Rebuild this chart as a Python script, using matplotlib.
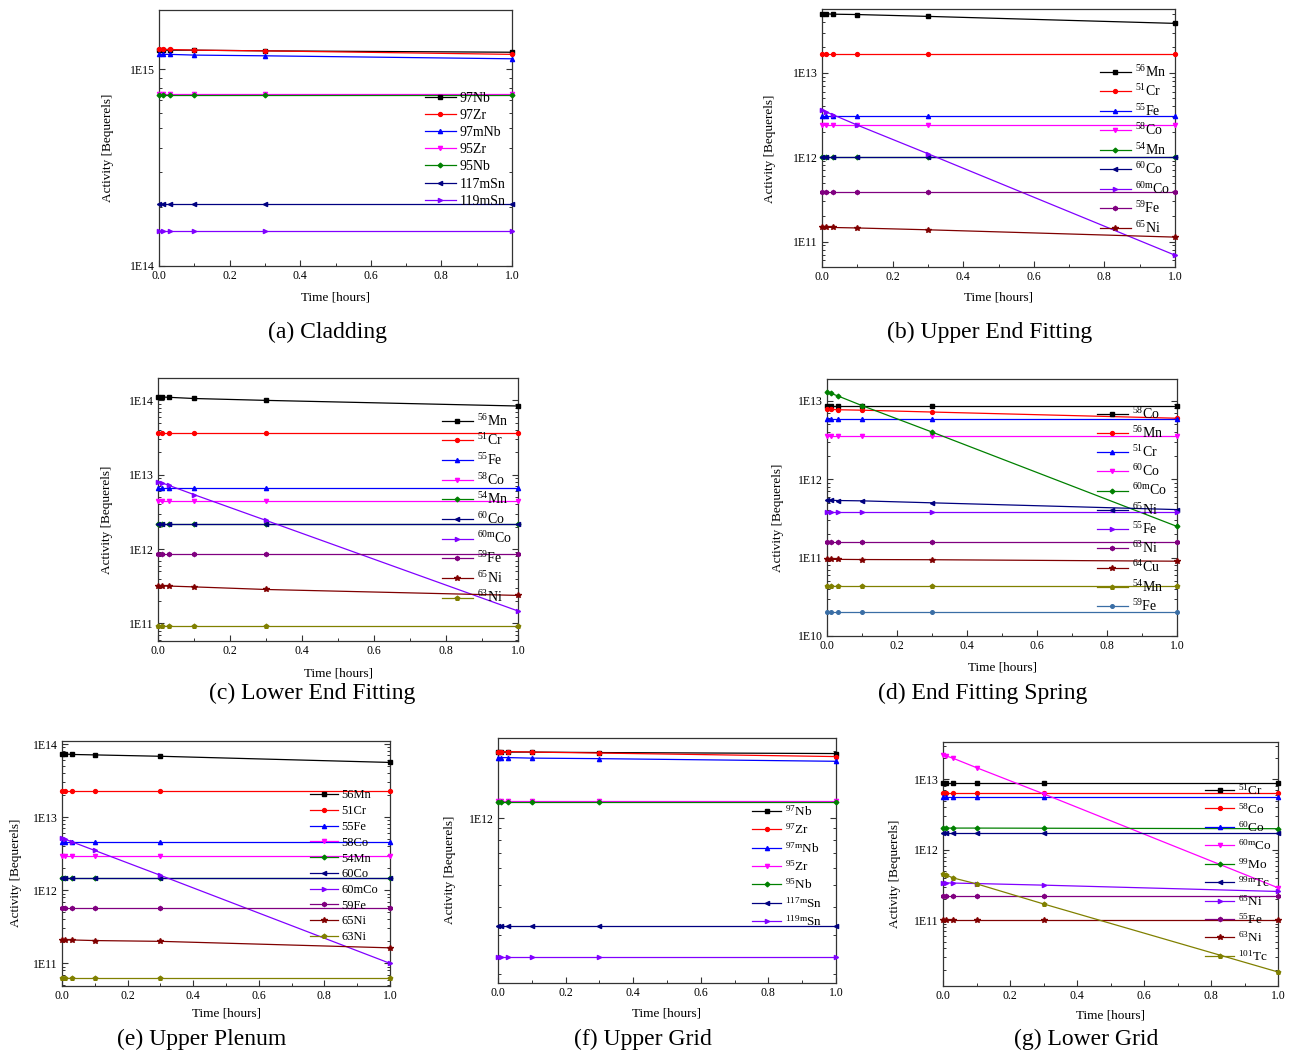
import numpy as np
import matplotlib
matplotlib.use('Agg')
import matplotlib.pyplot as plt
from matplotlib.ticker import LogLocator, FuncFormatter, MultipleLocator, NullFormatter

plt.rcParams['font.family'] = ['Liberation Serif', 'DejaVu Serif']
plt.rcParams['mathtext.fontset'] = 'custom'
plt.rcParams['mathtext.rm'] = 'Liberation Serif'
plt.rcParams['mathtext.it'] = 'Liberation Serif:italic'
plt.rcParams['mathtext.bf'] = 'Liberation Serif:bold'

# time after shutdown [hours]
TIME = [0.0, 0.01, 0.03, 0.1, 0.3, 1.0]

# (a) Cladding
clad_names = ['97Nb', '97Zr', '97mNb', '95Zr', '95Nb', '117mSn', '119mSn']
clad_vals = [
    [1.25e15, 1.25e15, 1.25e15, 1.25e15, 1.24e15, 1.22e15],
    [1.26e15, 1.26e15, 1.26e15, 1.25e15, 1.24e15, 1.19e15],
    [1.19e15, 1.19e15, 1.19e15, 1.18e15, 1.17e15, 1.13e15],
    [7.5e14, 7.5e14, 7.5e14, 7.5e14, 7.5e14, 7.5e14],
    [7.4e14, 7.4e14, 7.4e14, 7.4e14, 7.4e14, 7.4e14],
    [2.07e14, 2.07e14, 2.07e14, 2.07e14, 2.07e14, 2.07e14],
    [1.5e14, 1.5e14, 1.5e14, 1.5e14, 1.5e14, 1.5e14],
]

# (b) Upper End Fitting
uef_names = [r'$^{56}$Mn', r'$^{51}$Cr', r'$^{55}$Fe', r'$^{58}$Co', r'$^{54}$Mn',
             r'$^{60}$Co', r'$^{60\mathrm{m}}$Co', r'$^{59}$Fe', r'$^{65}$Ni']
uef_vals = [
    [5.0e13, 5.0e13, 4.95e13, 4.9e13, 4.66e13, 3.85e13],
    [1.68e13, 1.68e13, 1.68e13, 1.68e13, 1.68e13, 1.68e13],
    [3.05e12, 3.05e12, 3.05e12, 3.05e12, 3.05e12, 3.05e12],
    [2.4e12, 2.4e12, 2.4e12, 2.4e12, 2.4e12, 2.4e12],
    [1.0e12, 1.0e12, 1.0e12, 1.0e12, 1.0e12, 1.0e12],
    [1.0e12, 1.0e12, 1.0e12, 1.0e12, 1.0e12, 1.0e12],
    [3.6e12, 3.46e12, 3.2e12, 2.4e12, 1.1e12, 6.9e10],
    [3.9e11, 3.9e11, 3.9e11, 3.9e11, 3.9e11, 3.9e11],
    [1.48e11, 1.48e11, 1.47e11, 1.45e11, 1.38e11, 1.13e11],
]

# (c) Lower End Fitting
lef_names = [r'$^{56}$Mn', r'$^{51}$Cr', r'$^{55}$Fe', r'$^{58}$Co', r'$^{54}$Mn',
             r'$^{60}$Co', r'$^{60\mathrm{m}}$Co', r'$^{59}$Fe', r'$^{65}$Ni', r'$^{63}$Ni']
lef_vals = [
    [1.11e14, 1.11e14, 1.10e14, 1.06e14, 1.0e14, 8.4e13],
    [3.6e13, 3.6e13, 3.6e13, 3.6e13, 3.6e13, 3.6e13],
    [6.7e12, 6.7e12, 6.7e12, 6.7e12, 6.7e12, 6.7e12],
    [4.5e12, 4.5e12, 4.5e12, 4.5e12, 4.5e12, 4.5e12],
    [2.2e12, 2.2e12, 2.2e12, 2.2e12, 2.2e12, 2.2e12],
    [2.17e12, 2.17e12, 2.17e12, 2.17e12, 2.17e12, 2.17e12],
    [8.1e12, 7.8e12, 7.2e12, 5.4e12, 2.43e12, 1.47e11],
    [8.5e11, 8.5e11, 8.5e11, 8.5e11, 8.5e11, 8.5e11],
    [3.2e11, 3.2e11, 3.18e11, 3.1e11, 2.86e11, 2.38e11],
    [9.3e10, 9.3e10, 9.3e10, 9.3e10, 9.3e10, 9.3e10],
]

# (d) End Fitting Spring
efs_names = [r'$^{58}$Co', r'$^{56}$Mn', r'$^{51}$Cr', r'$^{60}$Co', r'$^{60\mathrm{m}}$Co',
             r'$^{65}$Ni', r'$^{55}$Fe', r'$^{63}$Ni', r'$^{64}$Cu', r'$^{54}$Mn', r'$^{59}$Fe']
efs_vals = [
    [8.7e12, 8.7e12, 8.7e12, 8.7e12, 8.7e12, 8.7e12],
    [7.8e12, 7.8e12, 7.7e12, 7.6e12, 7.2e12, 6.0e12],
    [5.9e12, 5.9e12, 5.9e12, 5.9e12, 5.9e12, 5.9e12],
    [3.6e12, 3.6e12, 3.6e12, 3.6e12, 3.6e12, 3.6e12],
    [1.3e13, 1.25e13, 1.16e13, 8.7e12, 4.0e12, 2.5e11],
    [5.4e11, 5.4e11, 5.35e11, 5.3e11, 5.0e11, 4.1e11],
    [3.8e11, 3.8e11, 3.8e11, 3.8e11, 3.8e11, 3.8e11],
    [1.57e11, 1.57e11, 1.57e11, 1.57e11, 1.57e11, 1.57e11],
    [9.5e10, 9.5e10, 9.5e10, 9.45e10, 9.4e10, 9.0e10],
    [4.4e10, 4.4e10, 4.4e10, 4.4e10, 4.4e10, 4.4e10],
    [2.0e10, 2.0e10, 2.0e10, 2.0e10, 2.0e10, 2.0e10],
]

# (e) Upper Plenum
upl_names = ['56Mn', '51Cr', '55Fe', '58Co', '54Mn', '60Co', '60mCo', '59Fe', '65Ni', '63Ni']
upl_vals = [
    [7.3e13, 7.3e13, 7.2e13, 7.1e13, 6.8e13, 5.6e13],
    [2.3e13, 2.3e13, 2.3e13, 2.3e13, 2.3e13, 2.3e13],
    [4.6e12, 4.6e12, 4.6e12, 4.6e12, 4.6e12, 4.6e12],
    [2.97e12, 2.97e12, 2.97e12, 2.97e12, 2.97e12, 2.97e12],
    [1.47e12, 1.47e12, 1.47e12, 1.47e12, 1.47e12, 1.47e12],
    [1.47e12, 1.47e12, 1.47e12, 1.47e12, 1.47e12, 1.47e12],
    [5.2e12, 5.0e12, 4.6e12, 3.5e12, 1.6e12, 1.0e11],
    [5.8e11, 5.8e11, 5.8e11, 5.8e11, 5.8e11, 5.8e11],
    [2.1e11, 2.1e11, 2.09e11, 2.05e11, 2.0e11, 1.63e11],
    [6.4e10, 6.4e10, 6.4e10, 6.4e10, 6.4e10, 6.4e10],
]

# (f) Upper Grid
ugr_names = [r'$^{97}$Nb', r'$^{97}$Zr', r'$^{97\mathrm{m}}$Nb', r'$^{95}$Zr', r'$^{95}$Nb',
             r'$^{117\mathrm{m}}$Sn', r'$^{119\mathrm{m}}$Sn']
ugr_vals = [
    [1.98e12, 1.98e12, 1.98e12, 1.98e12, 1.97e12, 1.95e12],
    [1.99e12, 1.99e12, 1.99e12, 1.98e12, 1.96e12, 1.89e12],
    [1.87e12, 1.87e12, 1.87e12, 1.86e12, 1.85e12, 1.80e12],
    [1.19e12, 1.19e12, 1.19e12, 1.19e12, 1.19e12, 1.19e12],
    [1.18e12, 1.18e12, 1.18e12, 1.18e12, 1.18e12, 1.18e12],
    [3.27e11, 3.27e11, 3.27e11, 3.27e11, 3.27e11, 3.27e11],
    [2.39e11, 2.39e11, 2.39e11, 2.39e11, 2.39e11, 2.39e11],
]

# (g) Lower Grid
lgr_names = [r'$^{51}$Cr', r'$^{58}$Co', r'$^{60}$Co', r'$^{60\mathrm{m}}$Co', r'$^{99}$Mo',
             r'$^{99\mathrm{m}}$Tc', r'$^{65}$Ni', r'$^{55}$Fe', r'$^{63}$Ni', r'$^{101}$Tc']
lgr_vals = [
    [8.8e12, 8.8e12, 8.8e12, 8.8e12, 8.8e12, 8.8e12],
    [6.5e12, 6.5e12, 6.5e12, 6.5e12, 6.5e12, 6.5e12],
    [5.7e12, 5.7e12, 5.7e12, 5.7e12, 5.7e12, 5.7e12],
    [2.2e13, 2.15e13, 2.0e13, 1.47e13, 6.25e12, 2.9e11],
    [2.04e12, 2.04e12, 2.04e12, 2.04e12, 2.03e12, 2.0e12],
    [1.73e12, 1.73e12, 1.73e12, 1.73e12, 1.73e12, 1.73e12],
    [3.4e11, 3.4e11, 3.38e11, 3.33e11, 3.16e11, 2.57e11],
    [2.2e11, 2.2e11, 2.2e11, 2.2e11, 2.2e11, 2.2e11],
    [1.0e11, 1.0e11, 1.0e11, 1.0e11, 1.0e11, 1.0e11],
    [4.5e11, 4.4e11, 4.0e11, 3.3e11, 1.71e11, 1.85e10],
]

# Origin-like colour / symbol cycle
COLORS = ['#000000', '#FF0000', '#0000FF', '#FF00FF', '#008000', '#000080',
          '#8000FF', '#800080', '#800000', '#808000', '#3A6EA5']
MARKERS = ['s', 'o', '^', 'v', 'D', '<', '>', 'h', '*', 'p', 'o']
MSIZES = [2.5, 2.8, 3.0, 3.0, 2.4, 3.0, 3.0, 3.0, 4.0, 3.2, 2.6]

W, H = 1294, 1052
fig = plt.figure(figsize=(W / 100, H / 100), dpi=100)


def decade_fmt(v, pos):
    return '1E%d' % int(round(np.log10(v)))


def panel(box, ylim, names, vals, caption, cap_xy, leg_xy, leg_fs, leg_ls, ylab_x, xlab_y):
    l, t, r, b = box
    ax = fig.add_axes([l / W, 1 - b / H, (r - l) / W, (b - t) / H])
    for i, (nm, v) in enumerate(zip(names, vals)):
        ax.plot(TIME, v, color=COLORS[i], marker=MARKERS[i], ms=MSIZES[i], lw=0.9,
                label=nm, clip_on=False, zorder=3)
    ax.set_yscale('log')
    ax.set_xlim(0, 1)
    ax.set_ylim(*ylim)
    ax.xaxis.set_major_locator(MultipleLocator(0.2))
    ax.xaxis.set_minor_locator(MultipleLocator(0.1))
    ax.xaxis.set_major_formatter(FuncFormatter(lambda v, p: '%.1f' % v))
    ax.yaxis.set_major_locator(LogLocator(base=10))
    ax.yaxis.set_minor_locator(LogLocator(base=10, subs=np.arange(2, 10)))
    ax.yaxis.set_major_formatter(FuncFormatter(decade_fmt))
    ax.yaxis.set_minor_formatter(NullFormatter())
    ax.tick_params(which='both', direction='in', right=True, top=False,
                   labelsize=8.5, colors='#333333', labelcolor='black', pad=3)
    ax.tick_params(which='major', length=4, width=0.8)
    ax.tick_params(which='minor', length=2.5, width=0.7)
    for s in ax.spines.values():
        s.set_color('#333333')
        s.set_linewidth(0.9)
    ax.set_ylabel('Activity [Bequerels]', fontsize=9.5, va='center')
    ax.set_xlabel('Time [hours]', fontsize=9.5, va='center')
    ax.yaxis.set_label_coords(-(l - ylab_x) / (r - l), 0.46)
    ax.xaxis.set_label_coords(0.5, -(xlab_y - b) / (b - t))
    fs_px = leg_fs * 100 / 72
    ax.legend(loc='upper left', bbox_to_anchor=(leg_xy[0] / W, 1 - (leg_xy[1] - 0.6 * fs_px) / H),
              bbox_transform=fig.transFigure, frameon=False, fontsize=leg_fs,
              labelspacing=leg_ls, handlelength=2.2, handletextpad=0.3,
              borderpad=0, borderaxespad=0, numpoints=1)
    fig.text(cap_xy[0] / W, 1 - cap_xy[1] / H, caption, fontsize=17, ha='center', va='center')
    return ax


panel((159, 10, 512, 266), (1e14, 2e15), clad_names, clad_vals, '(a) Cladding',
      (327, 332), (425, 100), 10, 0.30, 108, 297)
panel((822, 9, 1175, 267), (5e10, 5.7e13), uef_names, uef_vals, '(b) Upper End Fitting',
      (990, 332), (1100, 72), 10, 0.26, 770, 298)
panel((158, 378, 518, 641), (5.8e10, 2e14), lef_names, lef_vals, '(c) Lower End Fitting',
      (312, 693), (442, 421), 10, 0.27, 107, 673)
panel((827, 379, 1177, 636), (1e10, 1.9e13), efs_names, efs_vals, '(d) End Fitting Spring',
      (983, 693), (1097, 414), 10, 0.24, 778, 667)
panel((62, 741, 390, 986), (4.9e10, 1.1e14), upl_names, upl_vals, '(e) Upper Plenum',
      (202, 1039), (310, 797), 9, 0.30, 16, 1014)
panel((498, 738, 836, 983), (1.82e11, 2.29e12), ugr_names, ugr_vals, '(f) Upper Grid',
      (643, 1039), (752, 812), 9.5, 0.28, 450, 1014)
panel((943, 742, 1278, 986), (1.17e10, 3.4e13), lgr_names, lgr_vals, '(g) Lower Grid',
      (1086, 1039), (1205, 791), 9.5, 0.29, 895, 1015)

fig.savefig('out.png', dpi=100)
